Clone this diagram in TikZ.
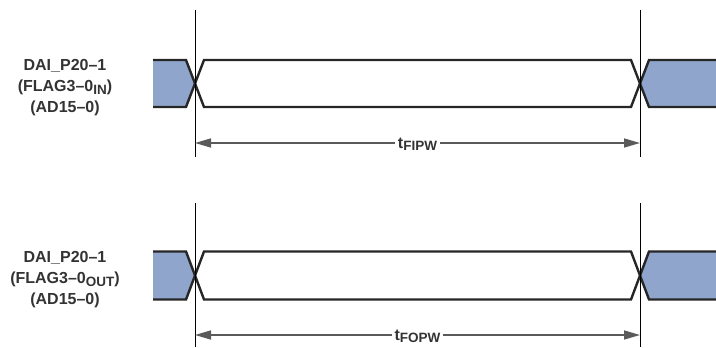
\documentclass[tikz,border=0pt]{standalone}
\usepackage{fontspec}
\setmainfont{Liberation Sans}
\usepackage{tikz}
\usetikzlibrary{arrows.meta, calc}
\definecolor{busblue}{HTML}{8FA5CB}
\definecolor{labelgray}{HTML}{333333}
\definecolor{waveline}{HTML}{262626}
\definecolor{spangray}{HTML}{5A5A5A}
\newcommand{\subtxt}[1]{\raisebox{-0.3ex}{\fontsize{13.5}{14}\selectfont #1}}
\tikzset{
  wave/.style={line width=2.4pt, draw=waveline},
  bus/.style={fill=busblue},
  marker/.style={line width=0.9pt, black},
  span/.style={line width=1.6pt, draw=spangray, {Triangle[length=16pt,width=9pt]}-{Triangle[length=16pt,width=9pt]}},
  sig/.style={align=center, text=labelgray, font=\bfseries\fontsize{16}{21}\selectfont},
  tlbl/.style={fill=white, inner xsep=3pt, inner ysep=1pt, yshift=-1.5pt, text=labelgray, font=\bfseries\fontsize{16}{18}\selectfont}
}

\begin{document}
\begin{tikzpicture}[x=1pt, y=-1pt]
    \useasboundingbox (0,0) rectangle (716,348);

    % Input signal
    \node[sig] (sigin) at (65,88) {DAI\_P20--1\\(FLAG3--0\subtxt{IN})\\(AD15--0)};

    \fill[bus] (153,60) -- (186,60) -- (195,83.5) -- (186,107) -- (153,107) -- cycle;
    \fill[bus] (640,83.5) -- (649,60) -- (716,60) -- (716,107) -- (649,107) -- cycle;
    \draw[wave] (153,60) -- (186,60) -- (204,107) -- (631,107) -- (649,60) -- (716,60);
    \draw[wave] (153,107) -- (186,107) -- (204,60) -- (631,60) -- (649,107) -- (716,107);

    \coordinate (inltop) at (195,10);
    \coordinate (inlbot) at (195,157);
    \coordinate (inrtop) at (640,10);
    \coordinate (inrbot) at (640,157);
    \draw[marker] (inltop) -- (inlbot);
    \draw[marker] (inrtop) -- (inrbot);

    \coordinate (fipwl) at (195,143);
    \coordinate (fipwr) at (640,143);
    \draw[span] (fipwl) -- node[tlbl] (fipw) {t\subtxt{FIPW}} (fipwr);

    % Output signal
    \node[sig] (sigout) at (65,280) {DAI\_P20--1\\(FLAG3--0\subtxt{OUT})\\(AD15--0)};

    \fill[bus] (153,251.5) -- (186,251.5) -- (195,275.5) -- (186,299.5) -- (153,299.5) -- cycle;
    \fill[bus] (640,275.5) -- (649,251.5) -- (716,251.5) -- (716,299.5) -- (649,299.5) -- cycle;
    \draw[wave] (153,251.5) -- (186,251.5) -- (204,299.5) -- (631,299.5) -- (649,251.5) -- (716,251.5);
    \draw[wave] (153,299.5) -- (186,299.5) -- (204,251.5) -- (631,251.5) -- (649,299.5) -- (716,299.5);

    \coordinate (outltop) at (195,203);
    \coordinate (outlbot) at (195,347);
    \coordinate (outrtop) at (640,203);
    \coordinate (outrbot) at (640,347);
    \draw[marker] (outltop) -- (outlbot);
    \draw[marker] (outrtop) -- (outrbot);

    \coordinate (fopwl) at (195,335);
    \coordinate (fopwr) at (640,335);
    \draw[span] (fopwl) -- node[tlbl] (fopw) {t\subtxt{FOPW}} (fopwr);
\end{tikzpicture}
\end{document}
